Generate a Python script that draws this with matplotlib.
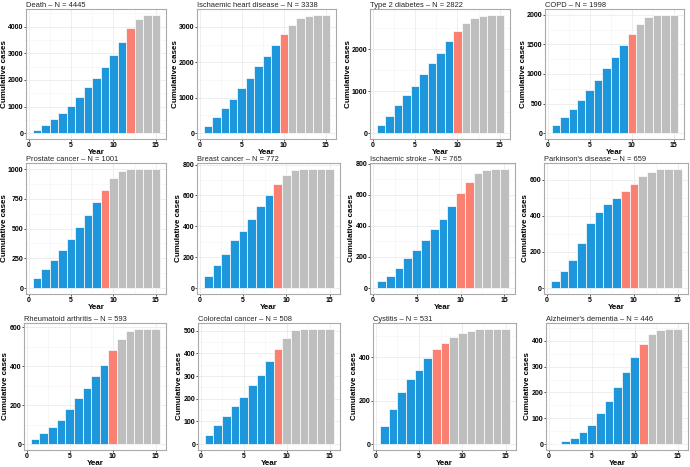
import matplotlib
matplotlib.use("Agg")
import matplotlib.pyplot as plt
from matplotlib.ticker import MultipleLocator

plt.rcParams['font.family'] = ['Liberation Sans', 'DejaVu Sans']

years = list(range(1, 16))

# cumulative cases per year
death = [125, 300, 536, 760, 1010, 1358, 1720, 2070, 2490, 2940, 3440, 3940, 4290, 4440, 4445]
ihd = [206, 449, 701, 972, 1271, 1570, 1897, 2168, 2486, 2804, 3065, 3243, 3318, 3327, 3338]
t2d = [198, 419, 664, 901, 1123, 1407, 1668, 1921, 2206, 2435, 2640, 2751, 2806, 2814, 2822]
copd = [129, 270, 410, 556, 725, 904, 1101, 1287, 1489, 1674, 1848, 1955, 1994, 1997, 1998]
prostate = [81, 157, 238, 322, 415, 510, 616, 725, 826, 924, 983, 997, 1000, 1001, 1001]
breast = [81, 148, 220, 314, 373, 449, 529, 603, 675, 734, 762, 770, 772, 772, 772]
stroke = [47, 77, 126, 193, 246, 310, 379, 443, 528, 612, 684, 740, 761, 765, 765]
parkinson = [41, 94, 157, 249, 360, 423, 465, 498, 539, 578, 620, 641, 657, 659, 659]
ra = [27, 57, 89, 126, 180, 239, 290, 349, 408, 482, 543, 583, 592, 593, 593]
colorectal = [39, 83, 124, 167, 207, 261, 304, 367, 417, 467, 503, 507, 508, 508, 508]
cystitis = [85, 163, 242, 301, 342, 396, 437, 464, 491, 510, 521, 530, 531, 531, 531]
alzheimer = [0, 11, 25, 48, 74, 119, 168, 221, 279, 338, 389, 424, 440, 445, 446]

names = ["Death", "Ischaemic heart disease", "Type 2 diabetes", "COPD",
         "Prostate cancer", "Breast cancer", "Ischaemic stroke", "Parkinson's disease",
         "Rheumatoid arthritis", "Colorectal cancer", "Cystitis", "Alzheimer's dementia"]
totals = [4445, 3338, 2822, 1998, 1001, 772, 765, 659, 593, 508, 531, 446]
series = [death, ihd, t2d, copd, prostate, breast, stroke, parkinson,
          ra, colorectal, cystitis, alzheimer]
red_years = [[12], [10], [10], [10], [9], [9], [10, 11], [9, 10], [10], [9], [7, 8], [11]]
y_steps = [1000, 1000, 1000, 500, 250, 200, 200, 200, 200, 100, 200, 100]

# panel frames in pixels: left, top, right, bottom
boxes = [(26, 9, 166, 139), (197, 9, 336, 139), (370, 9, 510, 139), (545, 9, 684, 139),
         (26, 163, 166, 294), (197, 163, 340, 294), (370, 163, 515, 294), (544, 163, 688, 294),
         (24, 323, 166, 450), (198, 323, 340, 450), (373, 323, 516, 450), (546, 323, 688, 450)]

BLUE = "#1E96DC"
RED = "#FA8072"
GREY = "#BEBEBE"

W, H = 690, 467
fig = plt.figure(figsize=(W / 100, H / 100), dpi=100)

for name, n, vals, reds, step, (l, t, r, b) in zip(names, totals, series, red_years, y_steps, boxes):
    ax = fig.add_axes([l / W, 1 - b / H, (r - l) / W, (b - t) / H])
    colors = []
    for y in years:
        if y in reds:
            colors.append(RED)
        elif y < min(reds):
            colors.append(BLUE)
        else:
            colors.append(GREY)
    ax.bar(years, vals, width=1.0, color=colors, edgecolor="white", linewidth=0.5, zorder=2)

    top = max(vals)
    ax.set_xlim(-0.3, 16.2)
    ax.set_ylim(-0.05 * top, top * 1.05)
    ax.xaxis.set_major_locator(MultipleLocator(5))
    ax.xaxis.set_minor_locator(MultipleLocator(2.5))
    ax.yaxis.set_major_locator(MultipleLocator(step))
    ax.yaxis.set_minor_locator(MultipleLocator(step / 2))
    ax.grid(True, which="major", color="#EBEBEB", linewidth=0.6, zorder=0)
    ax.grid(True, which="minor", color="#F4F4F4", linewidth=0.4, zorder=0)
    ax.set_axisbelow(True)
    for s in ax.spines.values():
        s.set_color("#AAAAAA")
        s.set_linewidth(0.8)
    ax.tick_params(which="major", length=1.5, width=0.6, color="#333333", labelsize=5, pad=0.5)
    ax.tick_params(which="minor", length=0)
    for lab in ax.get_xticklabels() + ax.get_yticklabels():
        lab.set_fontweight("bold")
    ax.set_xlabel("Year", fontsize=5.8, fontweight="bold", labelpad=0.5)
    ax.set_ylabel("Cumulative cases", fontsize=5.8, fontweight="bold", labelpad=0)
    ax.set_title(f"{name} \u2013 N = {n}", loc="left", fontsize=5.4, pad=1.5, color="#222222")

fig.savefig("out.png", dpi=100)
